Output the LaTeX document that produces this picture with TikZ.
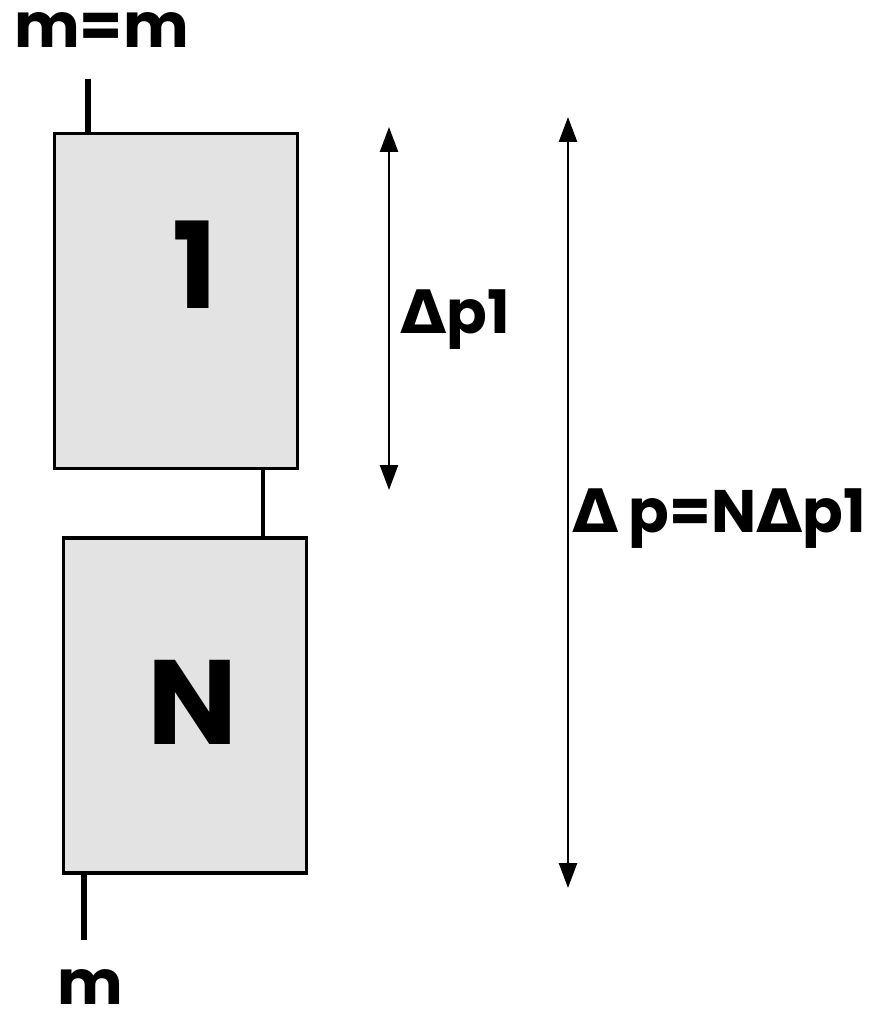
\documentclass[tikz,border=0pt]{standalone}
\usepackage{fontspec}
\setmainfont{Poppins}
\newfontfamily\symfont{DejaVu Sans}
\usetikzlibrary{arrows.meta}
\newcommand{\dlt}{{\symfont\bfseries Δ}}
\begin{document}
\begin{tikzpicture}[x=1pt,y=-1pt,
  box/.style={draw=black,line width=3.5pt,fill=black!11,minimum width=243pt,minimum height=335pt,inner sep=0pt},
  wire/.style={line width=6pt},
  link/.style={line width=4pt},
  dim/.style={line width=2.5pt,{Triangle[length=25pt,width=18pt]}-{Triangle[length=25pt,width=18pt]}},
  big/.style={font=\fontsize{120}{120}\selectfont\bfseries,inner sep=0pt},
  lab/.style={font=\fontsize{62}{62}\selectfont\bfseries,inner sep=0pt,anchor=base west},
  dl/.style={font=\fontsize{60}{60}\selectfont\bfseries,inner sep=0pt,anchor=base west}]
\useasboundingbox (0,0) rectangle (888,1011);
\node[box] (b1) at (176,301) {};
\node[box] (bN) at (185,705.5) {};
\node[big] (t1) at (195,265) {1};
\node[big] (tN) at (193,702) {N};
\coordinate (top) at (88,79);
\coordinate (bot) at (84,940);
\coordinate (mid) at (263,500);
\draw[wire] (top) -- (top |- b1.north);
\draw[wire] (bot) -- (bot |- bN.south);
\draw[link] (mid |- b1.south) -- (mid |- bN.north);
\coordinate (a1t) at (389,127);
\coordinate (a1b) at (389,490);
\coordinate (a2t) at (568,117);
\coordinate (a2b) at (568,888);
\draw[dim] (a1t) -- (a1b);
\draw[dim] (a2t) -- (a2b);
\node[lab] (min) at (14,48) {m=m};
\node[lab] (mout) at (57,1004) {m};
\node[dl] (dp1) at (400,333) {\dlt p1};
\node[dl] (dp) at (572,532) {\dlt\,p=N\dlt p1};
\end{tikzpicture}
\end{document}
